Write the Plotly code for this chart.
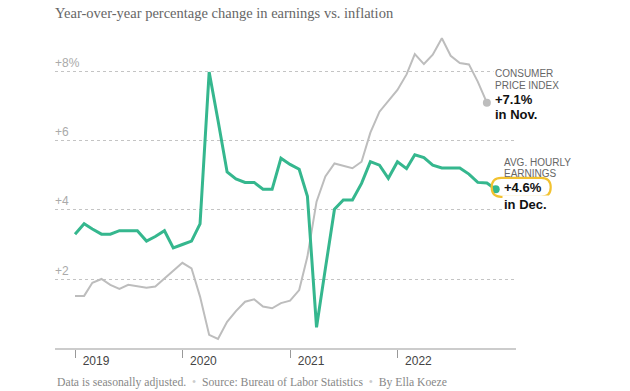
import pandas as pd
import plotly.graph_objects as go

# ---------------- data ----------------
months = pd.date_range("2019-01-01", periods=48, freq="MS")

earnings = [3.3, 3.6, 3.45, 3.3, 3.3, 3.4, 3.4, 3.4, 3.1, 3.23, 3.4, 2.9,
            3.0, 3.1, 3.6, 8.0, 6.6, 5.1, 4.9, 4.8, 4.8, 4.6, 4.6, 5.5,
            5.32, 5.18, 4.4, 0.6, 2.3, 4.02, 4.29, 4.29, 4.77, 5.4, 5.3, 4.92,
            5.4, 5.2, 5.6, 5.52, 5.3, 5.22, 5.22, 5.22, 5.04, 4.8, 4.78, 4.6]

cpi = [1.51, 1.51, 1.89, 2.0, 1.83, 1.71, 1.83, 1.78, 1.75, 1.78, 2.01, 2.24,
       2.47, 2.31, 1.49, 0.38, 0.26, 0.76, 1.07, 1.34, 1.41, 1.2, 1.15, 1.3,
       1.37, 1.68, 2.65, 4.24, 4.97, 5.35, 5.28, 5.21, 5.4, 6.24, 6.85, 7.15,
       7.48, 7.93, 8.52, 8.23, 8.5, 8.98, 8.47, 8.26, 8.22, 7.72, 7.11]

y_tickvals = [2, 4, 6, 8]
y_ticktext = ["+2", "+4", "+6", "+8%"]
x_tickvals = ["2019-01-01", "2020-01-01", "2021-01-01", "2022-01-01"]
x_ticktext = ["2019", "2020", "2021", "2022"]

title_text = "Year-over-year percentage change in earnings vs. inflation"
cpi_label = ["CONSUMER", "PRICE INDEX"]
cpi_value = ["+7.1%", "in Nov."]
ahe_label = ["AVG. HOURLY", "EARNINGS"]
ahe_value = ["+4.6%", "in Dec."]

GREEN = "#35b78e"
GRAY = "#bdbdbd"
SANS = "Liberation Sans, Arial, sans-serif"
SERIF = "Liberation Serif, Times New Roman, serif"

X_RANGE = ["2018-10-25", "2023-02-08"]
Y_RANGE = [0, 9.217]

cpi_months = months[:len(cpi)]

fig = go.Figure()
fig.add_trace(go.Scatter(x=cpi_months, y=cpi, mode="lines",
                         line=dict(color=GRAY, width=2), hoverinfo="skip"))
fig.add_trace(go.Scatter(x=months, y=earnings, mode="lines",
                         line=dict(color=GREEN, width=3), hoverinfo="skip"))
fig.add_trace(go.Scatter(x=[cpi_months[-1]], y=[cpi[-1]], mode="markers",
                         marker=dict(color=GRAY, size=8), hoverinfo="skip",
                         cliponaxis=False))
fig.add_trace(go.Scatter(x=[months[-1]], y=[earnings[-1]], mode="markers",
                         marker=dict(color=GREEN, size=8), hoverinfo="skip",
                         cliponaxis=False))

annotations = []
# y tick labels sitting above the gridlines
for v, t in zip(y_tickvals, y_ticktext):
    annotations.append(dict(xref="paper", x=0, yref="y", y=v, text=t,
                            xanchor="left", yanchor="middle", yshift=8.5,
                            xshift=-2, showarrow=False,
                            font=dict(family=SANS, size=12, color="#aaaaaa")))

# CPI label
cx, cy = cpi_months[-1], cpi[-1]
for t, ys in zip(cpi_label, [29.4, 17.4]):
    annotations.append(dict(x=cx, y=cy, text=t, xanchor="left", yanchor="middle",
                            xshift=6, yshift=ys, showarrow=False, bgcolor="white",
                            font=dict(family=SANS, size=10, color="#666666")))
for t, ys in zip(cpi_value, [2.7, -12.3]):
    annotations.append(dict(x=cx, y=cy, text="<b>%s</b>" % t, xanchor="left",
                            yanchor="middle", xshift=6, yshift=ys, showarrow=False,
                            bgcolor="white",
                            font=dict(family=SANS, size=13, color="#111111")))

# AHE label
ex, ey = months[-1], earnings[-1]
for t, ys in zip(ahe_label, [27, 15.3]):
    annotations.append(dict(x=ex, y=ey, text=t, xanchor="left", yanchor="middle",
                            xshift=6, yshift=ys, showarrow=False,
                            font=dict(family=SANS, size=10, color="#666666")))
for t, ys, bg in zip(ahe_value, [2, -15], ["rgba(0,0,0,0)", "white"]):
    annotations.append(dict(x=ex, y=ey, text="<b>%s</b>" % t, xanchor="left",
                            yanchor="middle", xshift=6, yshift=ys, showarrow=False,
                            bgcolor=bg,
                            font=dict(family=SANS, size=13, color="#111111")))

# footer
dot = '<span style="color:#cccccc">  •  </span>'
annotations.append(dict(xref="paper", yref="paper", x=0, y=-0.109,
                        xanchor="left", yanchor="middle", showarrow=False,
                        text="Data is seasonally adjusted." + dot +
                             "Source: Bureau of Labor Statistics" + dot +
                             "By Ella Koeze",
                        font=dict(family=SERIF, size=11.7, color="#888888")))

# yellow highlight around the final earnings value (paper-anchored so it is not clipped)
t0, t1 = pd.Timestamp(X_RANGE[0]), pd.Timestamp(X_RANGE[1])
ax_paper = (ex - t0) / (t1 - t0)
ay_paper = (ey - Y_RANGE[0]) / (Y_RANGE[1] - Y_RANGE[0])
r = 9.5
x0, x1, y0, y1 = -4, 55, -7.5, 11.5
ym = (y0 + y1) / 2
path = (f"M {x0 + r},{y0} L {x1 - r},{y0} Q {x1},{y0} {x1},{ym} "
        f"Q {x1},{y1} {x1 - r},{y1} L {x0 + r},{y1} Q {x0},{y1} {x0},{ym} "
        f"Q {x0},{y0} {x0 + r},{y0} Z")
shapes = [dict(type="path", xref="paper", yref="paper", xsizemode="pixel",
               ysizemode="pixel", xanchor=ax_paper, yanchor=ay_paper, path=path,
               line=dict(color="#f2c230", width=2.2), layer="above")]

fig.update_layout(
    width=630, height=391,
    margin=dict(l=55, r=114, t=30, b=43),
    paper_bgcolor="white", plot_bgcolor="white",
    showlegend=False,
    title=dict(text=title_text, xref="container", x=55 / 630, xanchor="left",
               y=1 - 13 / 391, yanchor="middle",
               font=dict(family=SERIF, size=14.5, color="#666666")),
    xaxis=dict(type="date", range=X_RANGE,
               tickvals=x_tickvals, ticktext=x_ticktext,
               showgrid=False, zeroline=False,
               showline=True, linecolor="#cccccc", linewidth=2,
               ticks="outside", ticklen=8, tickcolor="#999999", tickwidth=1,
               ticklabelshift=21, ticklabelstandoff=-7,
               tickfont=dict(family=SANS, size=12, color="#444444")),
    yaxis=dict(range=Y_RANGE, tickvals=y_tickvals, showticklabels=False,
               showgrid=True, gridcolor="#c4c4c4", griddash="dot", gridwidth=1,
               zeroline=False, showline=False),
    annotations=annotations,
    shapes=shapes,
)

fig.write_html("out.html",
               config={"displayModeBar": False, "staticPlot": True},
               post_script="document.body.style.margin='0';"
                           "document.body.style.overflow='hidden';")
